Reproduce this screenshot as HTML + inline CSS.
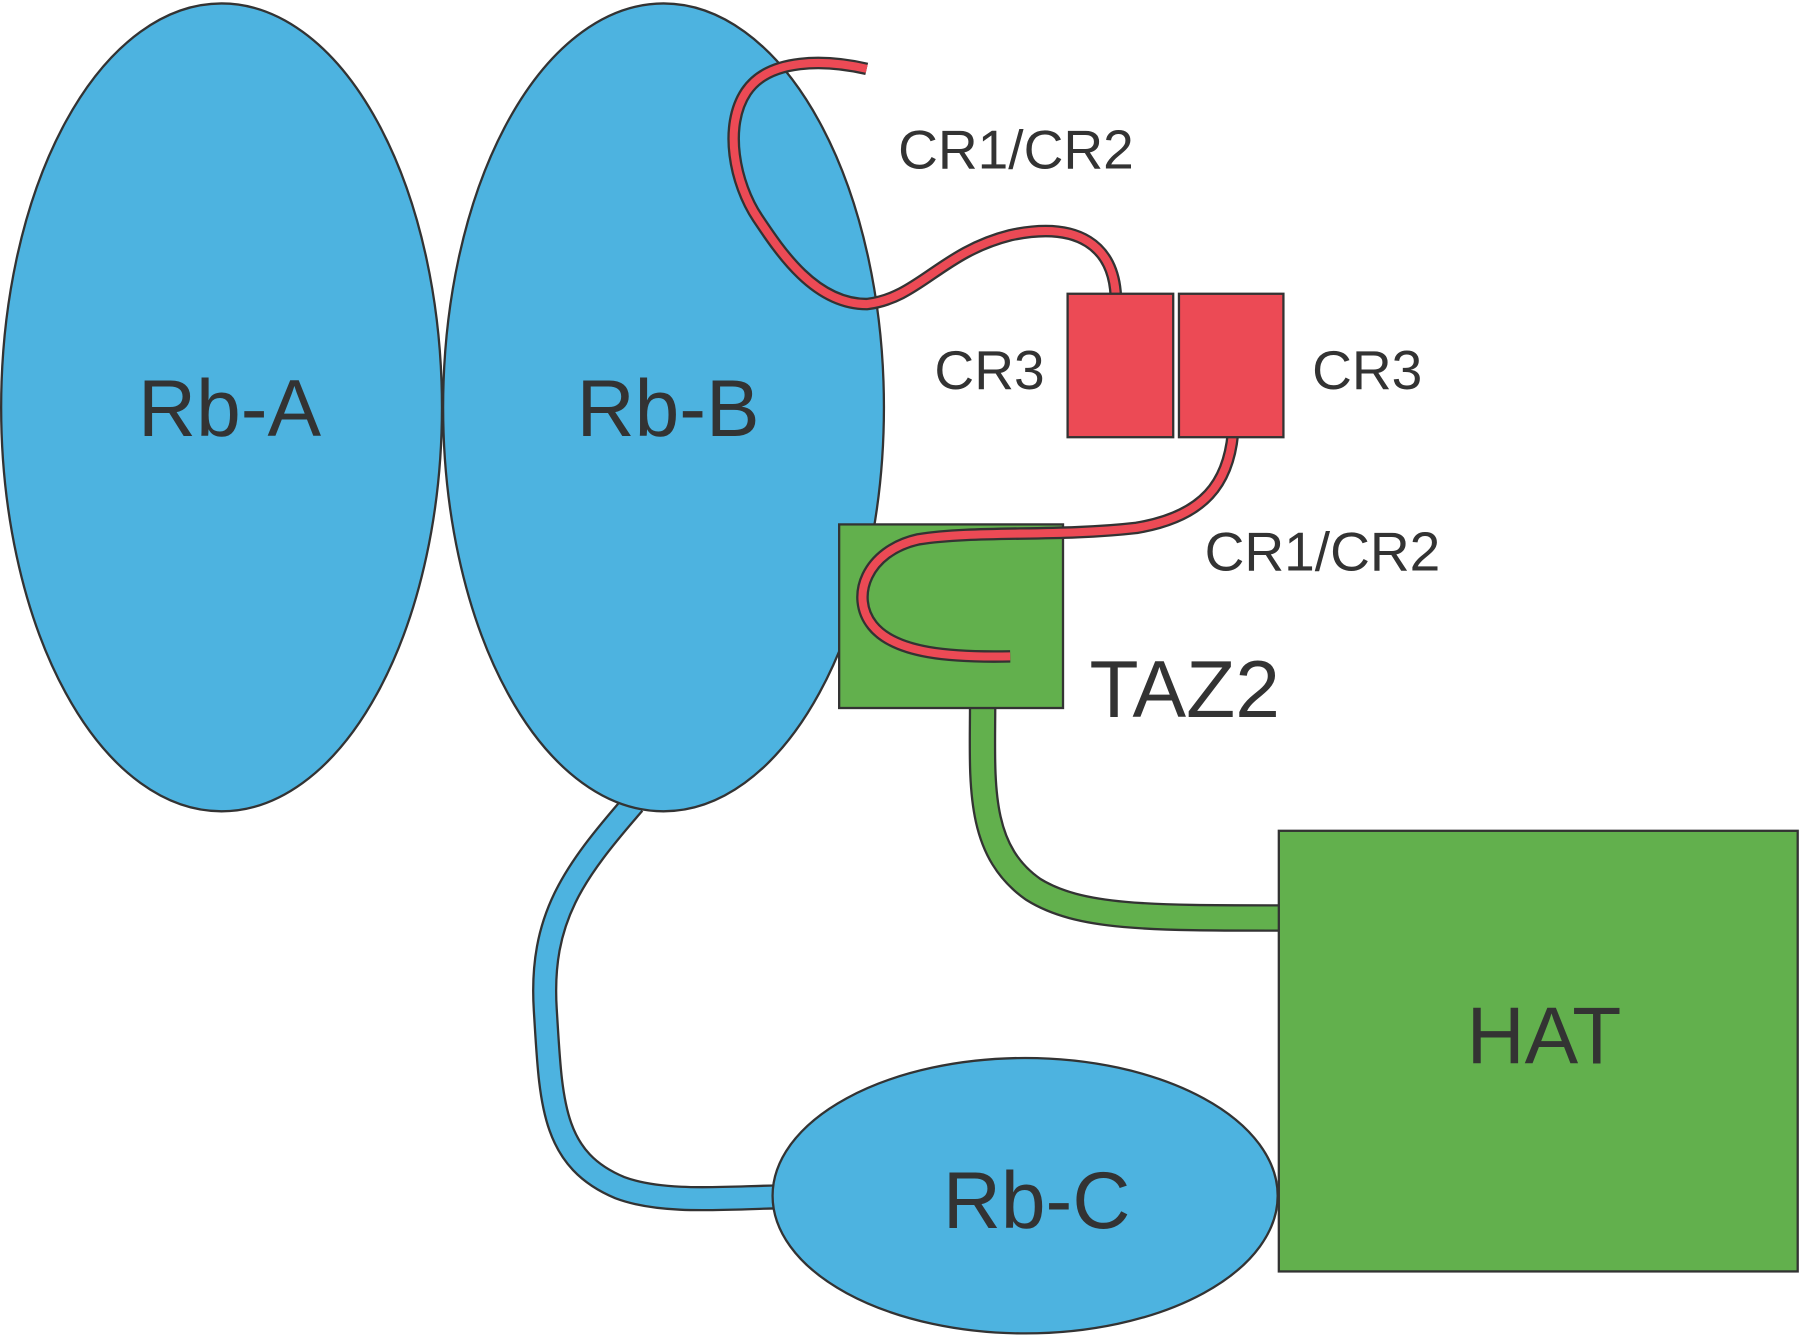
<!DOCTYPE html>
<html><head><meta charset="utf-8"><style>
html,body{margin:0;padding:0;background:#fff;}
svg{display:block;}
text{font-family:"Liberation Sans",sans-serif;fill:#333;}
</style></head><body>
<svg width="1800" height="1338" viewBox="0 0 1568 1166" preserveAspectRatio="none" xmlns="http://www.w3.org/2000/svg">
<!-- blue linker -->
<path d="M552,700 C500,760 470,800 475,880 C480,960 480,1010 540,1035 C580,1050 640,1043 685,1043" fill="none" stroke="#333" stroke-width="22"/>
<path d="M552,700 C500,760 470,800 475,880 C480,960 480,1010 540,1035 C580,1050 640,1043 685,1043" fill="none" stroke="#4db3e0" stroke-width="18"/>
<!-- green linker -->
<path d="M856,610 C856,680 850,740 900,775 C940,800 1000,800 1118,800" fill="none" stroke="#333" stroke-width="24"/>
<path d="M856,610 C856,680 850,740 900,775 C940,800 1000,800 1118,800" fill="none" stroke="#62b04d" stroke-width="20"/>
<ellipse cx="193" cy="355" rx="192" ry="352" fill="#4db3e0" stroke="#333" stroke-width="2"/>
<ellipse cx="578" cy="355" rx="192" ry="352" fill="#4db3e0" stroke="#333" stroke-width="2"/>
<ellipse cx="893" cy="1042" rx="220" ry="120" fill="#4db3e0" stroke="#333" stroke-width="2"/>
<rect x="1114" y="724" width="452" height="384" fill="#62b04d" stroke="#333" stroke-width="2"/>
<rect x="731" y="457" width="195" height="160" fill="#62b04d" stroke="#333" stroke-width="2"/>
<!-- red linker 1 -->
<path d="M755,60 C720,52 670,50 650,80 C630,110 640,160 660,190 C680,220 710,265 755,265 C800,260 820,220 880,205 C940,192 970,215 972,258" fill="none" stroke="#333" stroke-width="11"/>
<path d="M755,60 C720,52 670,50 650,80 C630,110 640,160 660,190 C680,220 710,265 755,265 C800,260 820,220 880,205 C940,192 970,215 972,258" fill="none" stroke="#ec4a55" stroke-width="7"/>
<!-- red linker 2 -->
<path d="M1074,378 C1070,420 1050,450 990,460 C920,468 850,462 800,470 C755,480 740,520 760,545 C780,570 830,573 880,572" fill="none" stroke="#333" stroke-width="11"/>
<path d="M1074,378 C1070,420 1050,450 990,460 C920,468 850,462 800,470 C755,480 740,520 760,545 C780,570 830,573 880,572" fill="none" stroke="#ec4a55" stroke-width="7"/>
<rect x="930" y="256" width="92" height="125" fill="#ec4a55" stroke="#333" stroke-width="2"/>
<rect x="1027" y="256" width="91" height="125" fill="#ec4a55" stroke="#333" stroke-width="2"/>
<text x="200" y="380" font-size="70" text-anchor="middle">Rb-A</text>
<text x="582" y="380" font-size="70" text-anchor="middle">Rb-B</text>
<text x="903" y="1070" font-size="70" text-anchor="middle">Rb-C</text>
<text x="1345" y="927" font-size="70" text-anchor="middle">HAT</text>
<text x="1032" y="625" font-size="70" text-anchor="middle">TAZ2</text>
<text x="885" y="147" font-size="48" text-anchor="middle">CR1/CR2</text>
<text x="1152" y="497" font-size="48" text-anchor="middle">CR1/CR2</text>
<text x="862" y="339" font-size="48" text-anchor="middle">CR3</text>
<text x="1191" y="339" font-size="48" text-anchor="middle">CR3</text>
</svg>
</body></html>
